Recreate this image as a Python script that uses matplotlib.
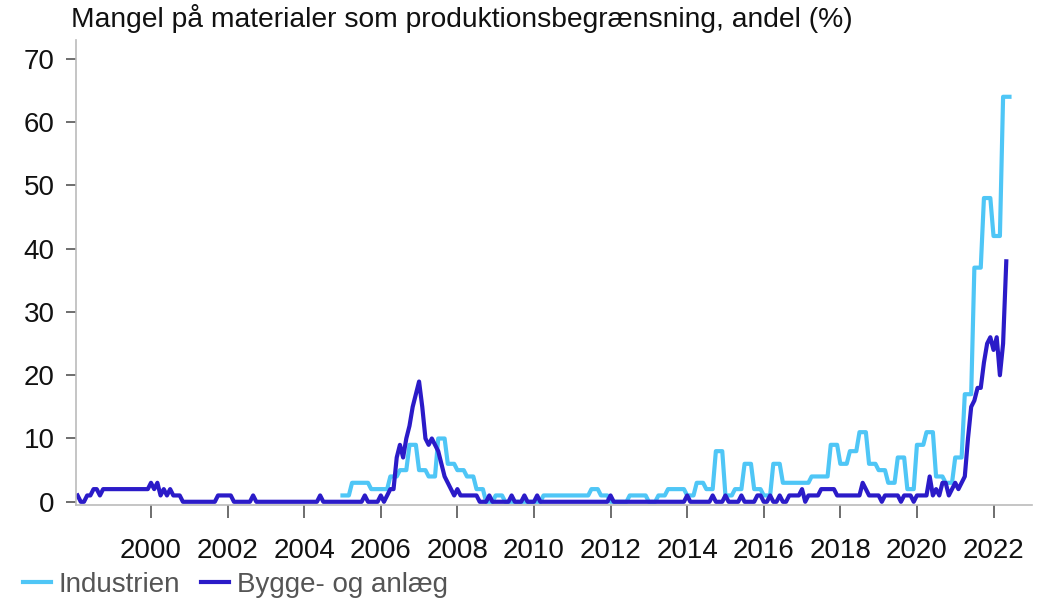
import numpy as np
import matplotlib
matplotlib.use("Agg")
import matplotlib.pyplot as plt

plt.rcParams['font.family'] = ['Liberation Sans', 'DejaVu Sans']

title = "Mangel på materialer som produktionsbegrænsning, andel (%)"
label_ind = "Industrien"
label_byg = "Bygge- og anlæg"

# Industrien, kvartalsvis 2005K1 - 2022K2
industrien_q = [1, 3, 3, 2,
                2, 4, 5, 9,
                5, 4, 10, 6,
                5, 4, 2, 0,
                1, 0, 0, 0,
                0, 1, 1, 1,
                1, 1, 2, 1,
                0, 0, 1, 1,
                0, 1, 2, 2,
                1, 3, 2, 8,
                1, 2, 6, 2,
                1, 6, 3, 3,
                3, 4, 4, 9,
                6, 8, 11, 6,
                5, 3, 7, 2,
                9, 11, 4, 3,
                7, 17, 37, 48,
                42, 64]
ind_start_year = 2005

# Bygge- og anlæg, månedlig feb 1998 - maj 2022
bygge_m = [1, 0, 0, 1, 1, 2, 2, 1, 2, 2, 2,            # 1998 (fra feb)
           2, 2, 2, 2, 2, 2, 2, 2, 2, 2, 2, 2,         # 1999
           3, 2, 3, 1, 2, 1, 2, 1, 1, 1, 0, 0,         # 2000
           0, 0, 0, 0, 0, 0, 0, 0, 0, 1, 1, 1,         # 2001
           1, 1, 0, 0, 0, 0, 0, 0, 1, 0, 0, 0,         # 2002
           0, 0, 0, 0, 0, 0, 0, 0, 0, 0, 0, 0,         # 2003
           0, 0, 0, 0, 0, 1, 0, 0, 0, 0, 0, 0,         # 2004
           0, 0, 0, 0, 0, 0, 0, 1, 0, 0, 0, 0,         # 2005
           1, 0, 1, 2, 2, 7, 9, 7, 10, 12, 15, 17,     # 2006
           19, 15, 10, 9, 10, 9, 8, 6, 4, 3, 2, 1,     # 2007
           2, 1, 1, 1, 1, 1, 1, 0, 0, 0, 1, 0,         # 2008
           0, 0, 0, 0, 0, 1, 0, 0, 0, 1, 0, 0,         # 2009
           0, 1, 0, 0, 0, 0, 0, 0, 0, 0, 0, 0,         # 2010
           0, 0, 0, 0, 0, 0, 0, 0, 0, 0, 0, 0,         # 2011
           1, 0, 0, 0, 0, 0, 0, 0, 0, 0, 0, 0,         # 2012
           0, 0, 0, 0, 0, 0, 0, 0, 0, 0, 0, 0,         # 2013
           1, 0, 0, 0, 0, 0, 0, 0, 1, 0, 0, 0,         # 2014
           1, 0, 0, 0, 0, 1, 0, 0, 0, 0, 1, 1,         # 2015
           0, 0, 1, 0, 0, 1, 0, 0, 1, 1, 1, 1,         # 2016
           2, 0, 1, 1, 1, 1, 2, 2, 2, 2, 2, 1,         # 2017
           1, 1, 1, 1, 1, 1, 1, 3, 2, 1, 1, 1,         # 2018
           1, 0, 1, 1, 1, 1, 1, 0, 1, 1, 1, 0,         # 2019
           1, 1, 1, 1, 4, 1, 2, 1, 3, 3, 1, 2,         # 2020
           3, 2, 3, 4, 10, 15, 16, 18, 18, 22, 25, 26,  # 2021
           24, 26, 20, 25, 38]                         # 2022 (til maj)
byg_start = 1998 + 1 / 12

ind_m = np.repeat(industrien_q, 3)
t_ind = ind_start_year + np.arange(len(ind_m)) / 12
t_byg = byg_start + np.arange(len(bygge_m)) / 12

years = list(range(2000, 2023, 2))

c_ind = "#4FC6F6"
c_byg = "#2B1BC8"
grey = "#555555"

fig = plt.figure(figsize=(10.37, 6.04), dpi=100)
ax = fig.add_axes([0.073, 0.164, 0.922, 0.769])

ax.plot(t_ind, ind_m, color=c_ind, lw=3, label=label_ind, solid_joinstyle="round")
ax.plot(t_byg, bygge_m, color=c_byg, lw=3, label=label_byg, solid_joinstyle="round")

ax.set_xlim(1998.034, 2023.0)
ax.set_ylim(-0.5, 72.9)
ax.set_yticks(range(0, 71, 10))
ax.set_xticks(years)
ax.set_xticklabels([str(y) for y in years])

for s in ["top", "right"]:
    ax.spines[s].set_visible(False)
for s in ["left", "bottom"]:
    ax.spines[s].set_color("#BBBBBB")
    ax.spines[s].set_linewidth(1.2)
ax.tick_params(axis="both", colors=grey, length=7, width=1.2, labelsize=20,
               labelcolor="#111111")
ax.tick_params(axis="y", pad=8)
ax.tick_params(axis="x", length=9, pad=15)

fig.text(0.068, 0.97, title, fontsize=20.3, color="#111111", ha="left", va="center")

fig.legend(loc="center left", bbox_to_anchor=(0.022, 0.032), ncol=2, frameon=False,
           fontsize=20, handlelength=1.0, handletextpad=0.3, columnspacing=0.75,
           borderpad=0, borderaxespad=0, labelcolor="#555555")

fig.savefig("out.png", dpi=100)
